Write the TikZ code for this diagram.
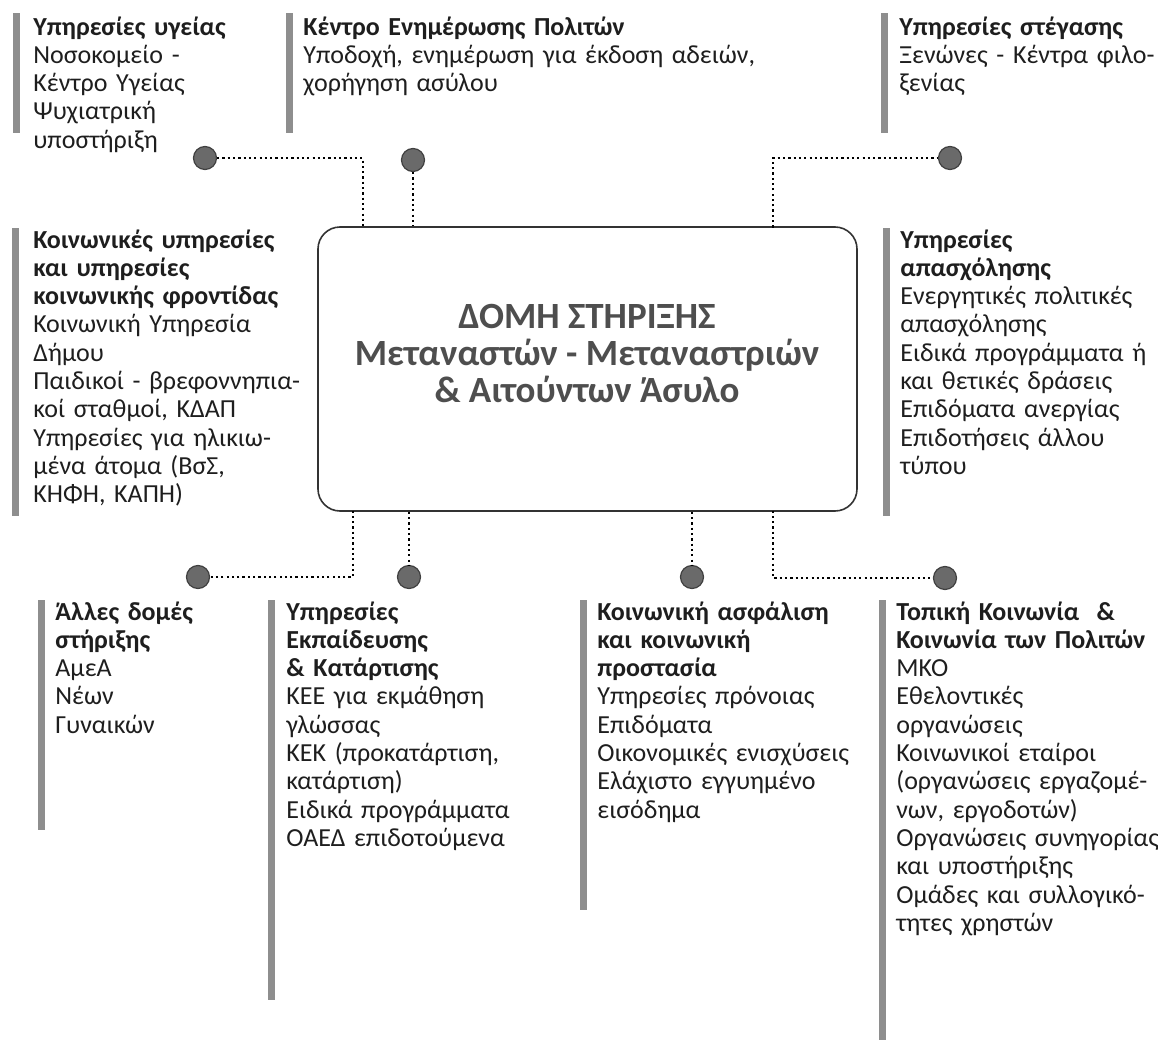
\documentclass[tikz,border=0pt]{standalone}
\usepackage{fontspec}
\setmainfont{Carlito}
\definecolor{bargray}{HTML}{8E8E8E}
\definecolor{dotgray}{HTML}{6A6A6A}
\definecolor{inkgray}{HTML}{1E1E1E}
\definecolor{titlegray}{HTML}{4E4E4E}
\begin{document}
\begin{tikzpicture}[x=0.5pt,y=-0.5pt,
  infotext/.style={anchor=base west, align=left, inner sep=0pt, text width=260pt,
    text=inkgray, font=\fontsize{13}{14.15}\selectfont},
  sidebar/.style={fill=bargray},
  hubdot/.style={circle, fill=dotgray, draw=black!75, line width=0.6pt,
    minimum size=11.5pt, inner sep=0pt},
  conn/.style={line width=1.1pt, dash pattern=on 1.1pt off 1.55pt},
  hub/.style={draw=black!80, line width=0.8pt, rounded corners=11pt,
    minimum width=269.5pt, minimum height=142pt},
  hubtitle/.style={align=center, inner sep=0pt, text=titlegray,
    font=\bfseries\fontsize{18.5}{18.5}\selectfont}]
\useasboundingbox (0,0) rectangle (1158,1044);

% central structure
\node[hub] (hub) at (587.5,369) {};
\node[hubtitle] (hubtitle) at (587,354) {ΔΟΜΗ ΣΤΗΡΙΞΗΣ\\ Μεταναστών - Μεταναστριών\\ \& Αιτούντων Άσυλο};

% side bars
\fill[sidebar] (13,13) rectangle (20,133);
\fill[sidebar] (286,13) rectangle (293,133);
\fill[sidebar] (881,13) rectangle (888,133);
\fill[sidebar] (12,228) rectangle (19,516);
\fill[sidebar] (883,228) rectangle (890,516);
\fill[sidebar] (38,600) rectangle (45,830);
\fill[sidebar] (268,600) rectangle (275,1000);
\fill[sidebar] (580,600) rectangle (587,910);
\fill[sidebar] (879,600) rectangle (886,1040);

% service groups
\node[infotext] (health) at (33,35) {\textbf{Υπηρεσίες υγείας}\\ Νοσοκομείο -\\ Κέντρο Υγείας\\ Ψυχιατρική\\ υποστήριξη};
\node[infotext] (citizen) at (303,35) {\textbf{Κέντρο Ενημέρωσης Πολιτών}\\ Υποδοχή, ενημέρωση για έκδοση αδειών,\\ χορήγηση ασύλου};
\node[infotext] (housing) at (899,35) {\textbf{Υπηρεσίες στέγασης}\\ Ξενώνες - Κέντρα φιλο-\\ ξενίας};
\node[infotext] (social) at (33,248) {\textbf{Κοινωνικές υπηρεσίες}\\ \textbf{και υπηρεσίες}\\ \textbf{κοινωνικής φροντίδας}\\ Κοινωνική Υπηρεσία\\ Δήμου\\ Παιδικοί - βρεφοννηπια-\\ κοί σταθμοί, ΚΔΑΠ\\ Υπηρεσίες για ηλικιω-\\ μένα άτομα (ΒσΣ,\\ ΚΗΦΗ, ΚΑΠΗ)};
\node[infotext] (jobs) at (900,248) {\textbf{Υπηρεσίες}\\ \textbf{απασχόλησης}\\ Ενεργητικές πολιτικές\\ απασχόλησης\\ Ειδικά προγράμματα ή\\ και θετικές δράσεις\\ Επιδόματα ανεργίας\\ Επιδοτήσεις άλλου\\ τύπου};
\node[infotext] (other) at (55,620) {\textbf{Άλλες δομές}\\ \textbf{στήριξης}\\ ΑμεΑ\\ Νέων\\ Γυναικών};
\node[infotext] (educ) at (286,620) {\textbf{Υπηρεσίες}\\ \textbf{Εκπαίδευσης}\\ \textbf{\& Κατάρτισης}\\ ΚΕΕ για εκμάθηση\\ γλώσσας\\ ΚΕΚ (προκατάρτιση,\\ κατάρτιση)\\ Ειδικά προγράμματα\\ ΟΑΕΔ επιδοτούμενα};
\node[infotext] (insur) at (597,620) {\textbf{Κοινωνική ασφάλιση}\\ \textbf{και κοινωνική}\\ \textbf{προστασία}\\ Υπηρεσίες πρόνοιας\\ Επιδόματα\\ Οικονομικές ενισχύσεις\\ Ελάχιστο εγγυημένο\\ εισόδημα};
\node[infotext] (local) at (896,620) {\textbf{Τοπική Κοινωνία \ \&}\\ \textbf{Κοινωνία των Πολιτών}\\ ΜΚΟ\\ Εθελοντικές\\ οργανώσεις\\ Κοινωνικοί εταίροι\\ (οργανώσεις εργαζομέ-\\ νων, εργοδοτών)\\ Οργανώσεις συνηγορίας\\ και υποστήριξης\\ Ομάδες και συλλογικό-\\ τητες χρηστών};

% dots
\node[hubdot] (dHealth) at (205,158) {};
\node[hubdot] (dCitizen) at (413,160) {};
\node[hubdot] (dHousing) at (950,158) {};
\node[hubdot] (dOther) at (198,577) {};
\node[hubdot] (dEduc) at (409,577) {};
\node[hubdot] (dInsur) at (692,577) {};
\node[hubdot] (dLocal) at (945,578) {};

% contact points on the box
\coordinate (kHealth) at (363,227.5);
\coordinate (kHousing) at (773,227.5);
\coordinate (kOther) at (353,510.5);
\coordinate (kLocal) at (773,510.5);

% dotted links
\draw[conn] (dHealth) -| (kHealth);
\draw[conn] (dCitizen) -- (dCitizen |- hub.north);
\draw[conn] (kHousing) |- (dHousing);
\draw[conn] (kOther) |- (dOther);
\draw[conn] (dEduc |- hub.south) -- (dEduc);
\draw[conn] (dInsur |- hub.south) -- (dInsur);
\draw[conn] (kLocal) |- (dLocal);

\end{tikzpicture}
\end{document}
